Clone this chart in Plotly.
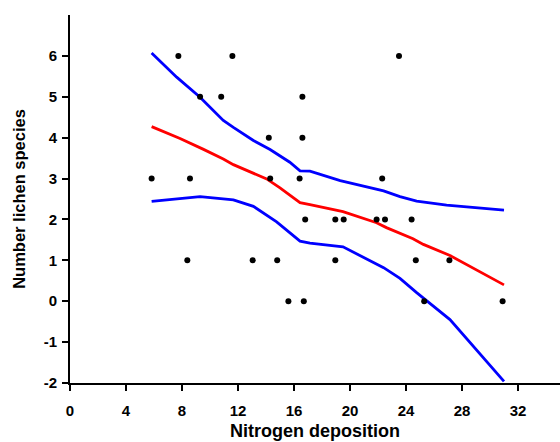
import plotly.graph_objects as go

# Observed data
nitrogen = [5.83, 7.74, 8.38, 8.57, 9.29, 10.8, 11.6, 13.05, 14.2, 14.3, 14.8, 15.6, 16.4, 16.6, 16.6,
            16.7, 16.8, 18.95, 18.95, 19.55, 21.9, 22.3, 22.5, 23.5, 24.4, 24.7, 25.3, 27.1, 30.9]
species = [3, 6, 1, 3, 5, 5, 6, 1, 4, 3, 1, 0, 3, 5, 4,
           0, 2, 2, 1, 2, 2, 3, 2, 6, 2, 1, 0, 1, 0]

# Fitted (red) curve
fit_x = [5.83, 7.86, 9.5, 10.95, 11.67, 14.05, 15.0, 16.43, 17.14, 19.5, 21.9, 22.6, 24.5, 25.24, 27.14, 31.0]
fit_y = [4.27, 3.98, 3.72, 3.48, 3.34, 2.99, 2.77, 2.41, 2.36, 2.19, 1.92, 1.80, 1.53, 1.39, 1.12, 0.40]

# Upper confidence band (blue)
upper_x = [5.83, 7.62, 9.29, 10.95, 11.67, 13.1, 14.29, 15.0, 15.7, 16.43, 17.14, 19.3, 22.4, 23.57, 24.76, 26.9, 31.0]
upper_y = [6.07, 5.48, 4.99, 4.42, 4.25, 3.93, 3.71, 3.56, 3.40, 3.19, 3.18, 2.95, 2.70, 2.56, 2.45, 2.35, 2.23]

# Lower confidence band (blue)
lower_x = [5.83, 9.29, 11.67, 13.1, 14.76, 16.43, 17.14, 19.5, 22.4, 23.57, 24.76, 27.14, 31.0]
lower_y = [2.44, 2.56, 2.48, 2.32, 1.94, 1.47, 1.42, 1.33, 0.82, 0.56, 0.21, -0.45, -1.96]

x_ticks = [0, 4, 8, 12, 16, 20, 24, 28, 32]
y_ticks = [-2, -1, 0, 1, 2, 3, 4, 5, 6]

FONT = "Liberation Sans, Arial"

fig = go.Figure()
fig.add_trace(go.Scatter(x=upper_x, y=upper_y, mode="lines", line=dict(color="#0000ff", width=2.8), showlegend=False))
fig.add_trace(go.Scatter(x=lower_x, y=lower_y, mode="lines", line=dict(color="#0000ff", width=2.8), showlegend=False))
fig.add_trace(go.Scatter(x=fit_x, y=fit_y, mode="lines", line=dict(color="#ff0000", width=2.8), showlegend=False))
fig.add_trace(go.Scatter(x=nitrogen, y=species, mode="markers",
                         marker=dict(color="black", size=6), showlegend=False, cliponaxis=False))

axis_font = dict(family=FONT, size=15, color="black")
fig.update_layout(
    width=560, height=442,
    margin=dict(l=70, r=0, t=15, b=59),
    paper_bgcolor="white", plot_bgcolor="white",
    font=dict(family=FONT, color="black"),
)
fig.update_xaxes(
    range=[0, 35], tickvals=x_ticks, ticktext=[f"<b>{v}</b>" for v in x_ticks],
    showgrid=False, zeroline=False, showline=True, linecolor="black", linewidth=2,
    ticks="outside", ticklen=6, tickwidth=1.5, tickcolor="black", tickfont=axis_font,
    ticklabelstandoff=7, automargin=False,
    title=dict(text="<b>Nitrogen deposition</b>", font=dict(family=FONT, size=18, color="black"), standoff=6),
)
fig.update_yaxes(
    range=[-2, 7], tickvals=y_ticks, ticktext=[f"<b>{v}</b>" for v in y_ticks],
    showgrid=False, zeroline=False, showline=True, linecolor="black", linewidth=2,
    ticks="outside", ticklen=6, tickwidth=1.5, tickcolor="black", tickfont=axis_font,
    ticklabelstandoff=2, automargin=False,
    title=dict(text="<b>Number lichen species</b>", font=dict(family=FONT, size=16.5, color="black"), standoff=14),
)

fig.write_html("out.html", config={"displayModeBar": False},
               post_script="document.body.style.margin='0';document.body.style.overflow='hidden';")
